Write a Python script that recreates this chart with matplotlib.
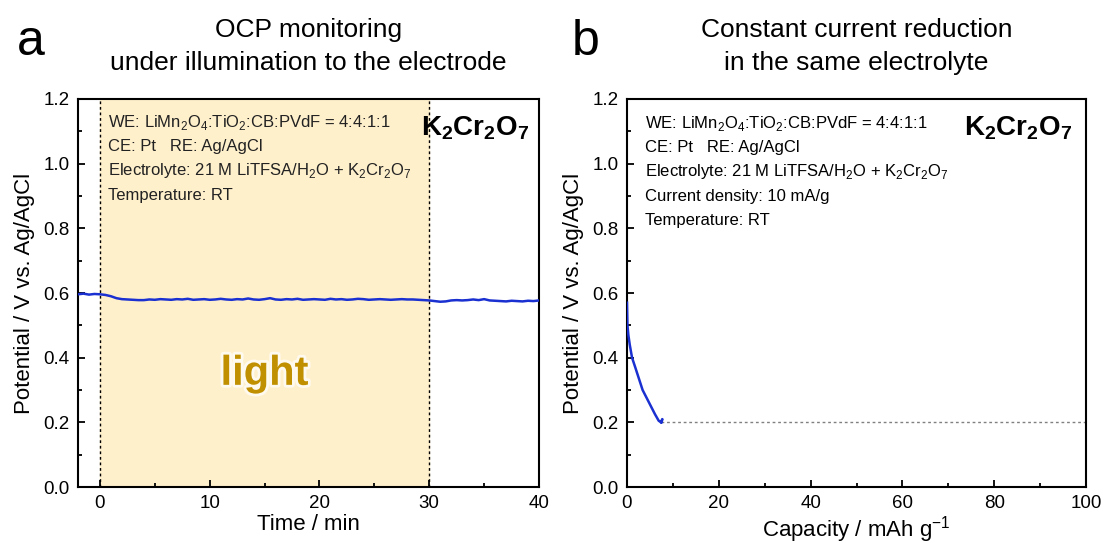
import matplotlib
matplotlib.use("Agg")
import matplotlib.pyplot as plt
import matplotlib.patheffects as pe
from matplotlib.ticker import MultipleLocator

plt.rcParams['font.family'] = ['Liberation Sans', 'DejaVu Sans']
plt.rcParams['mathtext.fontset'] = 'custom'
plt.rcParams['mathtext.rm'] = 'Liberation Sans'
plt.rcParams['mathtext.bf'] = 'Liberation Sans:bold'

# ---- data panel a (OCP vs time) ----
time_min = [-2.0 + 0.5 * i for i in range(85)]
ocp_V = [0.596, 0.598, 0.595, 0.597, 0.596, 0.594, 0.590, 0.584, 0.581,
         0.580, 0.579, 0.578, 0.578, 0.580, 0.579, 0.581, 0.580, 0.579, 0.581,
         0.580, 0.582, 0.579, 0.580, 0.581, 0.579, 0.580, 0.582, 0.580, 0.579,
         0.581, 0.580, 0.583, 0.580, 0.579, 0.581, 0.584, 0.580, 0.579, 0.581,
         0.580, 0.582, 0.579, 0.580, 0.581, 0.580, 0.579, 0.582, 0.580, 0.581,
         0.579, 0.580, 0.582, 0.581, 0.579, 0.580, 0.581, 0.580, 0.579, 0.580,
         0.581, 0.580, 0.580, 0.579, 0.578, 0.577, 0.575, 0.573, 0.574, 0.577,
         0.578, 0.577, 0.578, 0.580, 0.578, 0.581, 0.577, 0.576, 0.575, 0.574,
         0.576, 0.575, 0.574, 0.576, 0.575, 0.577]
light_on, light_off = 0, 30

# ---- data panel b (constant current reduction) ----
capacity = [0, 0.1, 0.3, 0.6, 1.1, 1.8, 2.6, 3.4, 4.3, 5.2, 6.1, 6.9, 7.4, 7.7, 7.5]
potential = [0.57, 0.50, 0.47, 0.44, 0.40, 0.37, 0.335, 0.30, 0.275, 0.25,
             0.225, 0.205, 0.20, 0.21, 0.20]
cutoff_V = 0.2

blue = '#1a30d0'
fig = plt.figure(figsize=(11.04, 5.43), dpi=100)
axL = fig.add_axes([78/1104, 1-487/543, (539-78)/1104, (487-99)/543])
axR = fig.add_axes([627/1104, 1-487/543, (1086-627)/1104, (487-99)/543])

for ax in (axL, axR):
    ax.set_ylim(0, 1.2)
    ax.yaxis.set_major_locator(MultipleLocator(0.2))
    ax.yaxis.set_minor_locator(MultipleLocator(0.1))
    ax.tick_params(which='both', direction='in', top=False, right=False,
                   labelsize=13.5, width=1.3)
    ax.tick_params(which='major', length=5, pad=6)
    ax.tick_params(which='minor', length=3)
    for s in ax.spines.values():
        s.set_linewidth(1.5)
    ax.set_ylabel('Potential / V vs. Ag/AgCl', fontsize=16, labelpad=6)
    ax.yaxis.set_major_formatter(matplotlib.ticker.FormatStrFormatter('%.1f'))

# panel a
axL.set_xlim(-2.0, 40)
axL.xaxis.set_major_locator(MultipleLocator(10))
axL.xaxis.set_minor_locator(MultipleLocator(5))
axL.axvspan(light_on, light_off, color='#fff0cc', zorder=0)
axL.axvline(light_on, color='black', ls=(0, (2, 2)), lw=1.0, zorder=1)
axL.axvline(light_off, color='black', ls=(0, (2, 2)), lw=1.0, zorder=1)
axL.plot(time_min, ocp_V, color=blue, lw=1.8, zorder=3)
axL.set_xlabel('Time / min', fontsize=16, labelpad=1)
axL.text(15, 0.35, 'light', fontsize=30, fontweight='bold', color='#c09000',
         ha='center', va='center',
         path_effects=[pe.withStroke(linewidth=4, foreground='#fffaf0')])
infoL = ['WE: LiMn$_2$O$_4$:TiO$_2$:CB:PVdF = 4:4:1:1',
         'CE: Pt   RE: Ag/AgCl',
         'Electrolyte: 21 M LiTFSA/H$_2$O + K$_2$Cr$_2$O$_7$',
         'Temperature: RT']
for i, s in enumerate(infoL):
    axL.text(0.065, 0.94 - i * 0.0625, s, transform=axL.transAxes,
             fontsize=12, ha='left', va='center', color='#222222')
axL.text(0.98, 0.925, r'$\mathbf{K_2Cr_2O_7}$', transform=axL.transAxes,
         fontsize=20, ha='right', va='center')
axL.set_title('OCP monitoring\nunder illumination to the electrode',
              fontsize=19, pad=21, linespacing=1.45)

# panel b
axR.set_xlim(0, 100)
axR.xaxis.set_major_locator(MultipleLocator(20))
axR.xaxis.set_minor_locator(MultipleLocator(10))
axR.axhline(cutoff_V, xmin=0.075, color='gray', ls=(0, (2, 2)), lw=1.0, zorder=1)
axR.plot(capacity, potential, color=blue, lw=1.8, zorder=3)
axR.set_xlabel('Capacity / mAh g$^{-1}$', fontsize=16, labelpad=1)
infoR = ['WE: LiMn$_2$O$_4$:TiO$_2$:CB:PVdF = 4:4:1:1',
         'CE: Pt   RE: Ag/AgCl',
         'Electrolyte: 21 M LiTFSA/H$_2$O + K$_2$Cr$_2$O$_7$',
         'Current density: 10 mA/g',
         'Temperature: RT']
for i, s in enumerate(infoR):
    axR.text(0.04, 0.937 - i * 0.0625, s, transform=axR.transAxes,
             fontsize=12, ha='left', va='center', color='black')
axR.text(0.97, 0.925, r'$\mathbf{K_2Cr_2O_7}$', transform=axR.transAxes,
         fontsize=20, ha='right', va='center')
axR.set_title('Constant current reduction\nin the same electrolyte',
              fontsize=19, pad=21, linespacing=1.45)

fig.text(31/1104, 1-42/543, 'a', fontsize=36, ha='center', va='center')
fig.text(586/1104, 1-42/543, 'b', fontsize=36, ha='center', va='center')

fig.savefig('out.png', dpi=100)
